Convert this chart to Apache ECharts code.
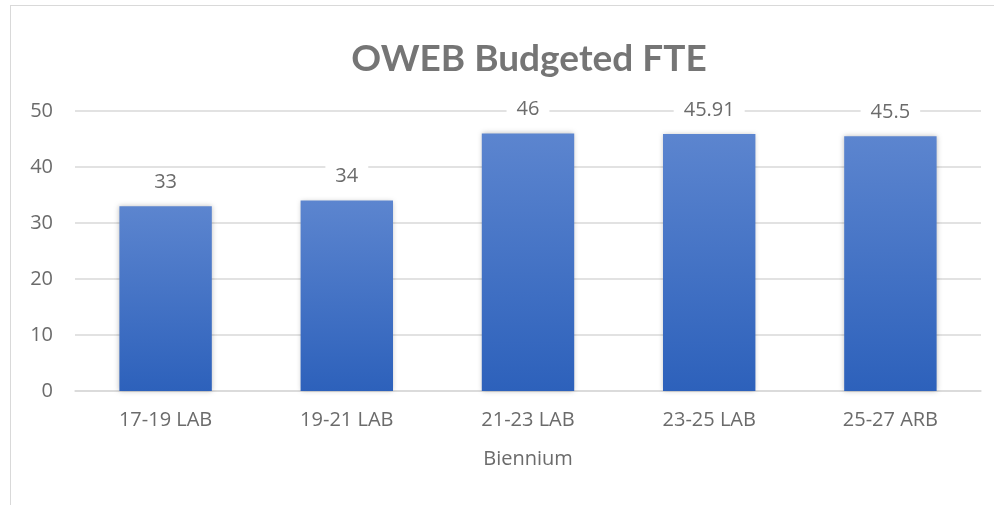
<!DOCTYPE html>
<html>
<head>
<meta charset="utf-8">
<script src="https://cdn.jsdelivr.net/npm/echarts@6/dist/echarts.min.js"></script>
<style>
  html, body { margin: 0; padding: 0; background: #fff; }
  #chart { width: 994px; height: 505px; }
  #frame { position: absolute; left: 10px; top: 5px; width: 1000px; height: 520px; border: 1px solid #d9d9d9; pointer-events: none; }
</style>
</head>
<body>
<div id="chart"></div>
<div id="frame"></div>
<script>
// biennium labels and budgeted FTE
const categories = ['17-19 LAB', '19-21 LAB', '21-23 LAB', '23-25 LAB', '25-27 ARB'];
const fteValues = [33, 34, 46, 45.91, 45.5];
const yTicks = { min: 0, max: 50, interval: 10 };

let myChart = echarts.init(document.getElementById('chart'));

let option = {
    animation: false,
    title: {
        text: 'OWEB Budgeted FTE',
        left: 524,
        top: 36,
        textAlign: 'center',
        textStyle: { fontFamily: 'Lato', fontWeight: 'bold', fontSize: 37, color: '#757575' }
    },
    grid: { left: 75, right: 13, top: 111, bottom: 114 },
    xAxis: {
        type: 'category',
        data: categories,
        name: 'Biennium',
        nameLocation: 'middle',
        nameGap: 58,
        nameTextStyle: { fontFamily: 'Open Sans', fontSize: 20, color: '#6b6b6b' },
        axisLine: { lineStyle: { color: '#d9d9d9', width: 1.5 } },
        axisTick: { show: false },
        axisLabel: { fontFamily: 'Open Sans', fontSize: 20, color: '#6b6b6b', margin: 19 }
    },
    yAxis: {
        type: 'value',
        min: yTicks.min,
        max: yTicks.max,
        interval: yTicks.interval,
        axisLine: { show: false },
        axisTick: { show: false },
        splitLine: { lineStyle: { color: '#d9d9d9', width: 1.5 } },
        axisLabel: { fontFamily: 'Open Sans', fontSize: 20, color: '#6b6b6b', margin: 22 }
    },
    series: [{
        type: 'bar',
        data: fteValues,
        barWidth: '51%',
        itemStyle: {
            color: new echarts.graphic.LinearGradient(0, 0, 0, 1, [
                { offset: 0, color: '#5c85cf' },
                { offset: 1, color: '#2d61bb' }
            ]),
            shadowColor: 'rgba(0,0,0,0.25)',
            shadowBlur: 5
        },
        label: {
            show: true,
            position: 'top',
            distance: 12,
            fontFamily: 'Open Sans',
            fontSize: 20,
            color: '#6b6b6b',
            backgroundColor: '#fff',
            padding: [2, 10]
        }
    }]
};
myChart.setOption(option);
</script>
</body>
</html>
